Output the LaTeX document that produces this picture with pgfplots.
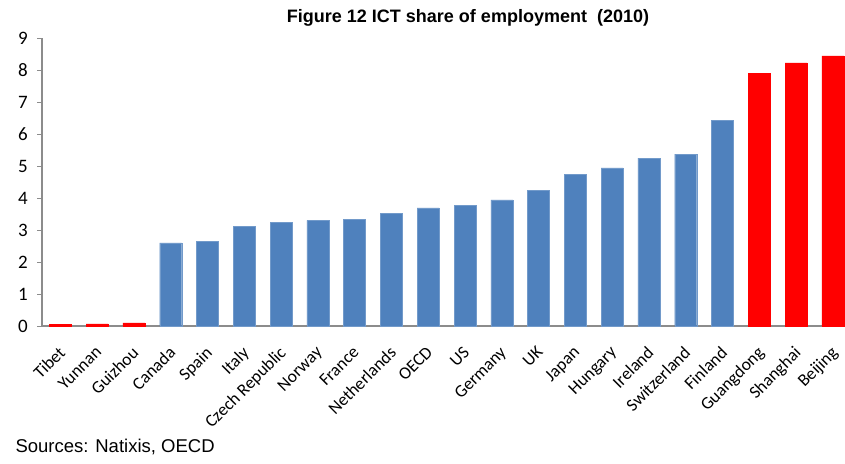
\documentclass[border=0pt]{standalone}
\usepackage{pgfplots}
\pgfplotsset{compat=1.18}
\usepackage{fontspec}
\setmainfont{Liberation Sans}
\newfontfamily\calibrifont{Carlito}
\definecolor{barblue}{HTML}{4F81BD}
\definecolor{barred}{HTML}{FF0000}
\definecolor{axgray}{HTML}{8C8C8C}
\begin{document}
\begin{tikzpicture}[x=1pt,y=1pt]
\path[use as bounding box] (0,0) rectangle (845,463);
\begin{axis}[
  at={(42pt,137pt)}, anchor=south west,
  width=803pt, height=288pt, scale only axis,
  ybar, bar width=22pt, bar shift=0pt,
  xmin=-0.5, xmax=21.33, ymin=0, ymax=9,
  ytick={0,1,...,9},
  xtick={0,1,...,21},
  xticklabels={Tibet,Yunnan,Guizhou,Canada,Spain,Italy,Czech Republic,Norway,France,Netherlands,OECD,US,Germany,UK,Japan,Hungary,Ireland,Switzerland,Finland,Guangdong,Shanghai,Beijing},
  x tick label style={font=\calibrifont\fontsize{17.5}{17.5}\selectfont, rotate=45, anchor=north east, inner sep=1pt, xshift=-11pt, yshift=-7pt},
  y tick label style={font=\calibrifont\fontsize{19}{19}\selectfont, inner sep=0pt, xshift=-9pt},
  /pgf/number format/assume math mode=true,
  axis x line=bottom, axis y line=left,
  axis line style={axgray, line width=1.2pt, -},
  major x tick style={draw=none},
  ytick style={axgray, line width=1pt},
  tick align=outside, major tick length=5pt,
  clip=false,
]
\addplot[fill=barblue, draw=barblue!80!white] coordinates {
(3,2.60) (4,2.65) (5,3.12) (6,3.24) (7,3.30) (8,3.33) (9,3.53) (10,3.69) (11,3.78) (12,3.94) (13,4.25) (14,4.75) (15,4.94) (16,5.25) (17,5.37) (18,6.43)};
\addplot[fill=barred, draw=barred] coordinates {
(0,0.05) (1,0.07) (2,0.10) (19,7.90) (20,8.22) (21,8.44)};
\end{axis}
\node[font=\bfseries\fontsize{18}{18}\selectfont] at (468,445) {Figure 12 ICT share of employment\ \ (2010)};
\node[anchor=west, font=\fontsize{18.5}{18.5}\selectfont] at (12,16) {Sources: Natixis, OECD};
\end{tikzpicture}
\end{document}
